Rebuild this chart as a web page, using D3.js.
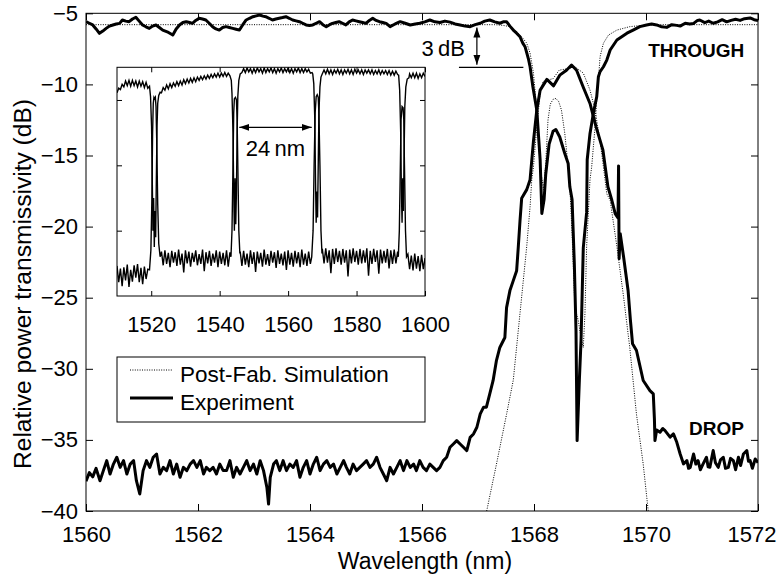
<!DOCTYPE html>
<html><head><meta charset="utf-8">
<script src="https://cdn.jsdelivr.net/npm/d3@7"></script>
<style>
body{margin:0;background:#fff}
svg{display:block}
text{font-family:"Liberation Sans",Arial,Helvetica,sans-serif;fill:#000}
</style>
</head><body>
<svg id="chart" width="777" height="577"></svg>
<script>
// ---------- data ----------
const xTicks = [1560, 1562, 1564, 1566, 1568, 1570, 1572];
const yTicks = [-5, -10, -15, -20, -25, -30, -35, -40];
const insetXTicks = [1520, 1540, 1560, 1580, 1600];
const insetYTicks = [-30, -20, -10];
const legendLabels = ["Post-Fab. Simulation", "Experiment"];
const portLabels = ["THROUGH", "DROP"];

const throughExp = [[1560.00,-5.59],[1560.06,-5.70],[1560.12,-5.82],[1560.18,-6.10],[1560.24,-6.41],[1560.30,-6.25],[1560.36,-6.06],[1560.42,-5.90],[1560.48,-5.82],[1560.54,-5.75],[1560.60,-5.71],[1560.65,-5.47],[1560.71,-5.55],[1560.77,-5.59],[1560.83,-5.40],[1560.89,-5.28],[1560.95,-5.55],[1561.01,-5.82],[1561.07,-5.95],[1561.13,-6.06],[1561.19,-5.90],[1561.25,-5.82],[1561.31,-6.00],[1561.37,-6.18],[1561.45,-6.30],[1561.55,-6.53],[1561.61,-6.10],[1561.67,-5.82],[1561.73,-5.65],[1561.79,-5.59],[1561.85,-5.65],[1561.90,-5.71],[1561.96,-5.50],[1562.02,-5.35],[1562.08,-5.40],[1562.14,-5.47],[1562.20,-5.70],[1562.26,-5.94],[1562.32,-6.10],[1562.38,-6.18],[1562.44,-6.00],[1562.50,-5.94],[1562.56,-6.00],[1562.62,-6.06],[1562.68,-6.12],[1562.74,-6.18],[1562.80,-5.80],[1562.86,-5.47],[1562.92,-5.35],[1562.98,-5.24],[1563.04,-5.18],[1563.10,-5.12],[1563.16,-5.20],[1563.21,-5.24],[1563.27,-5.35],[1563.33,-5.47],[1563.39,-5.40],[1563.45,-5.35],[1563.51,-5.30],[1563.57,-5.24],[1563.63,-5.35],[1563.69,-5.47],[1563.75,-5.53],[1563.81,-5.59],[1563.87,-5.70],[1563.93,-5.82],[1563.99,-5.85],[1564.05,-5.82],[1564.11,-5.70],[1564.17,-5.59],[1564.23,-5.80],[1564.29,-5.94],[1564.35,-5.80],[1564.40,-5.71],[1564.46,-5.65],[1564.52,-5.59],[1564.58,-5.70],[1564.64,-5.82],[1564.70,-5.60],[1564.76,-5.47],[1564.82,-5.53],[1564.88,-5.59],[1564.94,-5.65],[1565.00,-5.71],[1565.06,-5.50],[1565.12,-5.35],[1565.18,-5.50],[1565.24,-5.59],[1565.30,-5.65],[1565.36,-5.71],[1565.43,-5.94],[1565.52,-5.75],[1565.61,-5.59],[1565.70,-5.70],[1565.79,-5.82],[1565.88,-5.75],[1565.96,-5.70],[1566.05,-5.60],[1566.14,-5.47],[1566.23,-5.60],[1566.32,-5.65],[1566.41,-5.55],[1566.50,-5.62],[1566.59,-5.75],[1566.68,-5.82],[1566.77,-5.90],[1566.86,-5.94],[1566.95,-5.80],[1567.04,-5.70],[1567.12,-5.55],[1567.21,-5.47],[1567.30,-5.60],[1567.39,-5.70],[1567.45,-5.60],[1567.51,-5.59],[1567.57,-5.90],[1567.63,-6.18],[1567.69,-6.40],[1567.75,-6.65],[1567.80,-7.10],[1567.84,-7.35],[1567.90,-8.20],[1567.93,-8.76],[1567.98,-10.17],[1568.05,-11.81],[1568.11,-15.33],[1568.14,-19.08],[1568.18,-18.10],[1568.21,-16.30],[1568.27,-14.20],[1568.34,-13.30],[1568.39,-13.17],[1568.46,-13.70],[1568.55,-14.86],[1568.61,-15.56],[1568.64,-17.20],[1568.68,-18.10],[1568.72,-22.60],[1568.75,-27.30],[1568.77,-35.05],[1568.81,-30.80],[1568.84,-28.00],[1568.88,-21.50],[1568.94,-19.00],[1568.95,-15.30],[1569.00,-13.45],[1569.06,-12.04],[1569.12,-10.87],[1569.15,-9.46],[1569.18,-9.10],[1569.24,-8.76],[1569.30,-8.29],[1569.36,-7.58],[1569.48,-6.88],[1569.66,-6.40],[1569.77,-6.18],[1569.89,-5.94],[1570.01,-5.82],[1570.10,-5.75],[1570.19,-5.82],[1570.28,-5.95],[1570.37,-5.99],[1570.46,-5.80],[1570.55,-5.85],[1570.61,-5.90],[1570.70,-5.70],[1570.78,-5.75],[1570.85,-5.71],[1570.92,-5.50],[1570.96,-5.47],[1571.05,-5.65],[1571.12,-5.55],[1571.20,-5.70],[1571.28,-5.60],[1571.36,-5.45],[1571.44,-5.60],[1571.52,-5.50],[1571.60,-5.42],[1571.68,-5.50],[1571.76,-5.38],[1571.86,-5.33],[1571.93,-5.45],[1572.00,-5.50]];

const dropExp = [[1560.00,-37.9],[1560.06,-37.3],[1560.12,-37.6],[1560.18,-37.0],[1560.25,-37.87],[1560.31,-37.16],[1560.37,-36.46],[1560.43,-37.40],[1560.49,-36.70],[1560.55,-36.22],[1560.61,-36.93],[1560.67,-36.46],[1560.73,-37.40],[1560.79,-36.70],[1560.85,-36.46],[1560.90,-37.87],[1560.96,-38.80],[1561.02,-37.16],[1561.08,-36.46],[1561.14,-36.93],[1561.20,-36.22],[1561.26,-35.99],[1561.32,-37.40],[1561.38,-36.93],[1561.44,-37.16],[1561.50,-36.46],[1561.56,-37.40],[1561.62,-36.70],[1561.68,-37.63],[1561.74,-36.93],[1561.80,-37.16],[1561.86,-36.70],[1561.92,-36.46],[1561.98,-36.93],[1562.04,-36.46],[1562.10,-37.40],[1562.15,-36.93],[1562.21,-37.16],[1562.27,-36.93],[1562.33,-37.40],[1562.39,-36.70],[1562.45,-37.16],[1562.51,-37.16],[1562.57,-36.46],[1562.63,-37.63],[1562.69,-36.93],[1562.75,-37.40],[1562.81,-36.93],[1562.87,-36.46],[1562.93,-37.16],[1562.99,-36.70],[1563.05,-37.40],[1563.11,-36.46],[1563.17,-37.16],[1563.23,-38.34],[1563.26,-39.51],[1563.29,-37.63],[1563.35,-36.70],[1563.40,-36.46],[1563.46,-37.16],[1563.52,-36.46],[1563.58,-37.16],[1563.64,-36.70],[1563.70,-36.93],[1563.76,-36.46],[1563.82,-37.63],[1563.88,-36.93],[1563.94,-36.46],[1564.00,-37.40],[1564.06,-36.70],[1564.12,-36.22],[1564.18,-37.16],[1564.24,-36.70],[1564.30,-36.46],[1564.36,-36.93],[1564.42,-36.70],[1564.48,-37.40],[1564.54,-36.93],[1564.60,-36.46],[1564.65,-36.93],[1564.71,-37.40],[1564.77,-36.70],[1564.83,-37.16],[1564.89,-36.93],[1564.95,-36.70],[1565.01,-36.46],[1565.07,-36.93],[1565.13,-36.70],[1565.19,-36.22],[1565.25,-36.93],[1565.31,-37.40],[1565.37,-37.87],[1565.43,-36.93],[1565.49,-37.40],[1565.55,-36.93],[1565.61,-36.46],[1565.67,-37.16],[1565.73,-36.46],[1565.79,-36.93],[1565.85,-36.70],[1565.90,-37.16],[1565.96,-36.46],[1566.02,-36.93],[1566.08,-37.16],[1566.14,-36.70],[1566.20,-36.93],[1566.26,-37.16],[1566.32,-36.93],[1566.38,-36.46],[1566.44,-36.22],[1566.50,-35.52],[1566.56,-35.29],[1566.62,-35.05],[1566.68,-35.29],[1566.74,-35.52],[1566.80,-35.75],[1566.86,-34.82],[1566.92,-34.58],[1566.98,-34.11],[1567.04,-33.17],[1567.10,-32.70],[1567.15,-32.70],[1567.21,-31.76],[1567.27,-30.82],[1567.33,-29.40],[1567.39,-28.50],[1567.48,-27.80],[1567.51,-25.70],[1567.57,-24.50],[1567.63,-23.80],[1567.69,-23.10],[1567.72,-21.40],[1567.75,-19.60],[1567.78,-18.00],[1567.87,-17.40],[1567.93,-16.70],[1567.99,-14.00],[1568.05,-11.80],[1568.11,-10.40],[1568.23,-9.65],[1568.35,-10.10],[1568.46,-9.35],[1568.58,-9.00],[1568.67,-8.64],[1568.76,-9.00],[1568.88,-10.20],[1569.00,-11.34],[1569.11,-13.00],[1569.23,-14.60],[1569.32,-17.20],[1569.39,-18.15],[1569.45,-19.09],[1569.50,-19.40],[1569.51,-15.73],[1569.52,-22.26],[1569.54,-20.50],[1569.60,-22.14],[1569.68,-24.49],[1569.72,-26.50],[1569.76,-28.24],[1569.83,-28.71],[1569.95,-30.82],[1570.07,-31.53],[1570.13,-31.76],[1570.15,-33.50],[1570.16,-35.05],[1570.19,-34.30],[1570.25,-34.46],[1570.30,-34.20],[1570.34,-34.35],[1570.43,-34.81],[1570.49,-34.58],[1570.55,-35.17],[1570.61,-35.99],[1570.67,-36.69],[1570.73,-36.46],[1570.76,-37.00],[1570.79,-36.93],[1570.85,-35.99],[1570.89,-36.70],[1570.93,-36.46],[1570.97,-37.10],[1571.02,-36.69],[1571.08,-36.22],[1571.11,-36.90],[1571.14,-36.93],[1571.20,-35.75],[1571.24,-36.60],[1571.29,-36.93],[1571.33,-36.40],[1571.38,-36.22],[1571.42,-37.00],[1571.47,-36.93],[1571.51,-36.30],[1571.56,-36.46],[1571.60,-37.10],[1571.65,-36.22],[1571.69,-36.80],[1571.74,-35.99],[1571.80,-35.75],[1571.83,-36.50],[1571.86,-36.46],[1571.90,-37.00],[1571.95,-36.34],[1572.00,-36.60]];

const throughSim = [[1560,-5.8],[1567.3,-5.8],[1567.45,-5.85],[1567.57,-5.94],[1567.69,-6.3],[1567.78,-6.65],[1567.87,-7.1],[1567.93,-7.8],[1567.99,-9.2],[1568.05,-11.8],[1568.09,-14.6],[1568.13,-16.3],[1568.17,-17.4],[1568.21,-15.5],[1568.25,-12.5],[1568.29,-11.4],[1568.34,-11.05],[1568.39,-10.99],[1568.44,-11.2],[1568.49,-11.8],[1568.55,-13.45],[1568.61,-15.8],[1568.64,-17.2],[1568.68,-20.5],[1568.73,-25.66],[1568.79,-26.6],[1568.84,-27.8],[1568.88,-28.5],[1568.91,-26.1],[1568.94,-21.4],[1569.0,-16.7],[1569.03,-15.8],[1569.09,-13.0],[1569.12,-11.1],[1569.15,-9.7],[1569.18,-8.05],[1569.24,-7.1],[1569.33,-6.53],[1569.48,-6.18],[1569.71,-5.94],[1570.01,-5.82],[1570.3,-5.8],[1572,-5.8]];

const dropSim = [[1567.155,-40],[1567.33,-36.7],[1567.51,-33.2],[1567.63,-30.8],[1567.75,-26.1],[1567.87,-21.4],[1567.93,-18.6],[1567.96,-16.7],[1567.99,-15.8],[1568.05,-13.0],[1568.11,-10.6],[1568.16,-9.8],[1568.23,-9.7],[1568.34,-9.6],[1568.45,-9.0],[1568.64,-8.87],[1568.73,-8.76],[1568.88,-9.2],[1569.0,-10.4],[1569.09,-11.8],[1569.18,-14.0],[1569.24,-15.8],[1569.30,-17.7],[1569.36,-18.15],[1569.48,-21.4],[1569.6,-24.96],[1569.71,-28.5],[1569.83,-33.2],[1569.95,-36.7],[1570.04,-40]];

const insetThrough = [[1510,-8.9],[1510.5,-8.2],[1511,-8.4],[1511.5,-7.6],[1512,-8.0],[1512.5,-7.1],[1513,-7.8],[1513.5,-7.0],[1514,-7.9],[1514.5,-7.0],[1515,-7.8],[1515.5,-7.1],[1516,-8.0],[1516.5,-7.1],[1517,-7.9],[1517.5,-7.2],[1518,-8.1],[1518.5,-7.3],[1519,-8.2],[1519.5,-7.9],[1519.8,-9.5],[1520.1,-14],[1520.3,-22],[1520.5,-30],[1520.7,-25],[1520.9,-32.5],[1521.1,-27],[1521.3,-31],[1521.5,-22],[1521.7,-14],[1521.9,-10.5],[1522.2,-9.3],[1522.6,-8.8],[1523,-8.9],[1523.5,-8.1],[1524,-8.5],[1524.5,-7.7],[1525,-8.3],[1525.5,-7.5],[1526,-8.1],[1526.5,-7.4],[1527,-7.9],[1527.5,-7.2],[1528,-7.8],[1528.5,-7.1],[1529,-7.7],[1529.5,-6.9],[1530,-7.5],[1530.5,-6.8],[1531,-7.4],[1531.5,-6.7],[1532,-7.3],[1532.5,-6.6],[1533,-7.2],[1533.5,-6.5],[1534,-7.0],[1534.5,-6.4],[1535,-6.9],[1535.5,-6.3],[1536,-6.8],[1536.5,-6.2],[1537,-6.7],[1537.5,-6.1],[1538,-6.6],[1538.5,-6.0],[1539,-6.5],[1539.5,-5.9],[1540,-6.5],[1540.5,-5.9],[1541,-6.4],[1541.5,-5.8],[1542,-6.4],[1542.5,-5.9],[1543,-6.3],[1543.4,-7.0],[1543.6,-9],[1543.9,-15],[1544.1,-24],[1544.3,-30],[1544.5,-22],[1544.7,-29],[1544.9,-24],[1545.1,-15],[1545.3,-9.5],[1545.6,-7],[1546,-6.0],[1546.5,-5.8],[1547,-5.2],[1547.5,-5.8],[1548,-5.1],[1548.5,-5.7],[1549,-5.2],[1549.5,-5.9],[1550,-5.2],[1550.5,-5.8],[1551,-5.1],[1551.5,-5.7],[1552,-5.2],[1552.5,-5.9],[1553,-5.1],[1553.5,-5.8],[1554,-5.2],[1554.5,-5.7],[1555,-5.1],[1555.5,-5.8],[1556,-5.2],[1556.5,-5.9],[1557,-5.2],[1557.5,-5.7],[1558,-5.1],[1558.5,-5.8],[1559,-5.2],[1559.5,-5.7],[1560,-5.1],[1560.5,-5.8],[1561,-5.2],[1561.5,-5.9],[1562,-5.2],[1562.5,-5.7],[1563,-5.1],[1563.5,-5.8],[1564,-5.2],[1564.5,-5.8],[1565,-5.2],[1565.5,-5.7],[1566,-5.3],[1566.5,-5.9],[1567,-5.8],[1567.2,-6.0],[1567.5,-7.5],[1567.8,-13],[1568.0,-22],[1568.2,-28.8],[1568.4,-24],[1568.6,-28],[1568.8,-20],[1569.0,-12],[1569.3,-8],[1569.6,-6.5],[1570,-6.0],[1570.5,-5.4],[1571,-6.0],[1571.5,-5.3],[1572,-6.0],[1572.5,-5.4],[1573,-6.1],[1573.5,-5.4],[1574,-5.9],[1574.5,-5.3],[1575,-6.0],[1575.5,-5.4],[1576,-6.1],[1576.5,-5.4],[1577,-5.9],[1577.5,-5.3],[1578,-6.0],[1578.5,-5.4],[1579,-6.1],[1579.5,-5.3],[1580,-5.9],[1580.5,-5.4],[1581,-6.0],[1581.5,-5.4],[1582,-6.1],[1582.5,-5.4],[1583,-5.9],[1583.5,-5.4],[1584,-6.0],[1584.5,-5.4],[1585,-6.1],[1585.5,-5.5],[1586,-6.0],[1586.5,-5.4],[1587,-6.1],[1587.5,-5.5],[1588,-6.0],[1588.5,-5.5],[1589,-6.1],[1589.5,-5.5],[1590,-6.2],[1590.5,-5.6],[1591,-6.2],[1591.5,-5.6],[1592,-6.1],[1592.3,-6.2],[1592.6,-8.5],[1592.9,-15],[1593.1,-24],[1593.3,-28.8],[1593.5,-22],[1593.7,-27],[1593.9,-18],[1594.1,-11],[1594.4,-8],[1594.8,-6.8],[1595.3,-6.6],[1595.5,-6.0],[1596,-6.6],[1596.5,-5.9],[1597,-6.6],[1597.5,-5.9],[1598,-6.7],[1598.5,-6.0],[1599,-6.6],[1599.5,-5.9],[1600,-6.4]];

const insetDrop = [[1510,-35.4],[1510.5,-37.9],[1511,-35.8],[1511.5,-38.5],[1512,-35.6],[1512.5,-37.6],[1513,-35.2],[1513.5,-38.6],[1514,-36.0],[1514.5,-37.8],[1515,-35.3],[1515.5,-37.2],[1516,-35.1],[1516.5,-37.9],[1517,-35.7],[1517.5,-38.2],[1518,-35.5],[1518.5,-37.4],[1519,-35.9],[1519.5,-36],[1519.9,-33],[1520.2,-25],[1520.4,-15],[1520.6,-10.5],[1520.8,-9.6],[1521.0,-9.8],[1521.2,-9.6],[1521.4,-11],[1521.6,-16],[1521.9,-26],[1522.2,-32],[1522.6,-34],[1523,-33.2],[1523.5,-35.3],[1524,-33.0],[1524.5,-35.1],[1525,-33.4],[1525.5,-35.6],[1526,-33.1],[1526.5,-34.9],[1527,-33.3],[1527.5,-35.4],[1528,-32.9],[1528.5,-35.2],[1529,-33.5],[1529.5,-36.4],[1530,-33.0],[1530.5,-35.0],[1531,-33.2],[1531.5,-35.5],[1532,-33.4],[1532.5,-34.8],[1533,-33.0],[1533.5,-35.3],[1534,-33.6],[1534.5,-35.1],[1535,-32.9],[1535.5,-36.2],[1536,-33.3],[1536.5,-35.0],[1537,-33.1],[1537.5,-35.4],[1538,-33.5],[1538.5,-34.9],[1539,-33.0],[1539.5,-35.6],[1540,-33.2],[1540.5,-35.1],[1541,-33.4],[1541.5,-35.3],[1542,-33.0],[1542.5,-35.5],[1543,-33.3],[1543.3,-34],[1543.6,-30],[1543.9,-20],[1544.1,-12],[1544.3,-9.8],[1544.6,-9.6],[1544.9,-10],[1545.1,-13],[1545.3,-20],[1545.6,-30],[1545.9,-33.5],[1546,-33.2],[1546.5,-35.4],[1547,-33.1],[1547.5,-35.2],[1548,-33.5],[1548.5,-35.6],[1549,-33.0],[1549.5,-35.1],[1550,-33.3],[1550.5,-36.3],[1551,-33.2],[1551.5,-35.0],[1552,-33.4],[1552.5,-35.5],[1553,-32.9],[1553.5,-35.2],[1554,-33.6],[1554.5,-35.4],[1555,-33.1],[1555.5,-34.9],[1556,-33.3],[1556.5,-35.7],[1557,-33.0],[1557.5,-35.1],[1558,-33.5],[1558.5,-35.3],[1559,-33.2],[1559.5,-36.0],[1560,-33.0],[1560.5,-35.2],[1561,-33.4],[1561.5,-35.5],[1562,-33.1],[1562.5,-35.0],[1563,-33.3],[1563.5,-35.6],[1564,-32.9],[1564.5,-35.2],[1565,-33.5],[1565.5,-35.4],[1566,-33.2],[1566.5,-35.1],[1566.9,-34],[1567.3,-30],[1567.6,-20],[1567.9,-12],[1568.2,-9.5],[1568.5,-9.2],[1568.8,-9.6],[1569.0,-12],[1569.3,-20],[1569.6,-30],[1569.9,-33.5],[1570,-32.8],[1570.5,-35.0],[1571,-32.7],[1571.5,-34.9],[1572,-33.0],[1572.5,-36.5],[1573,-32.8],[1573.5,-35.1],[1574,-32.7],[1574.5,-34.8],[1575,-33.1],[1575.5,-35.2],[1576,-32.8],[1576.5,-34.9],[1577,-33.0],[1577.5,-37.0],[1578,-32.9],[1578.5,-35.0],[1579,-32.7],[1579.5,-34.8],[1580,-33.1],[1580.5,-35.2],[1581,-32.8],[1581.5,-35.0],[1582,-33.0],[1582.5,-34.9],[1583,-32.7],[1583.5,-36.9],[1584,-33.1],[1584.5,-35.1],[1585,-32.8],[1585.5,-34.8],[1586,-33.0],[1586.5,-36.6],[1587,-32.9],[1587.5,-35.0],[1588,-33.1],[1588.5,-34.9],[1589,-32.8],[1589.5,-35.8],[1590,-33.0],[1590.5,-35.1],[1591,-32.9],[1591.5,-35.0],[1592,-33.2],[1592.2,-34],[1592.5,-30],[1592.8,-20],[1593.0,-13],[1593.3,-11],[1593.6,-11.2],[1593.8,-13],[1594.0,-20],[1594.3,-30],[1594.6,-34],[1595,-33.6],[1595.5,-35.9],[1596,-33.8],[1596.5,-36.1],[1597,-33.5],[1597.5,-35.8],[1598,-33.9],[1598.5,-36.2],[1599,-33.7],[1599.5,-35.9],[1600,-34.2]];

// ---------- layout ----------
const svg = d3.select("#chart");
const FS = 22;
const M = {left: 86, right: 758, top: 13.3, bottom: 511};
const x = d3.scaleLinear().domain([1560, 1572]).range([M.left, M.right]);
const y = d3.scaleLinear().domain([-40, -5]).range([M.bottom, M.top]);

const defs = svg.append("defs");
defs.append("clipPath").attr("id", "clipMain")
  .append("rect").attr("x", M.left).attr("y", M.top)
  .attr("width", M.right - M.left).attr("height", M.bottom - M.top);

const line = (sx, sy) => d3.line().x(d => sx(d[0])).y(d => sy(d[1]));

// main curves
const plot = svg.append("g").attr("clip-path", "url(#clipMain)");
[throughSim, dropSim].forEach(s => plot.append("path").datum(s).attr("d", line(x, y))
  .attr("fill", "none").attr("stroke", "#000").attr("stroke-width", 1).attr("stroke-dasharray", "1,1.4"));
[throughExp, dropExp].forEach(s => plot.append("path").datum(s).attr("d", line(x, y))
  .attr("fill", "none").attr("stroke", "#000").attr("stroke-width", 3).attr("stroke-linejoin", "round"));

// axes
function styleAxis(g) {
  g.select(".domain").remove();
  g.selectAll(".tick line").attr("stroke", "#000").attr("stroke-width", 1);
  g.selectAll("text").attr("font-size", FS).attr("font-family", "Liberation Sans, Arial, sans-serif").attr("fill", "#000");
  g.attr("font-size", null).attr("font-family", null);
}
const gx = svg.append("g").attr("transform", `translate(0,${M.bottom})`)
  .call(d3.axisBottom(x).tickValues(xTicks).tickSizeInner(-7).tickSizeOuter(0).tickPadding(15).tickFormat(d3.format("d")))
  .call(styleAxis);
// keep the last tick label inside the picture, as in the reference
gx.selectAll(".tick text").filter(d => d === xTicks[xTicks.length - 1])
  .attr("text-anchor", "end").attr("x", 777 - M.right - 1);
svg.append("g").attr("transform", `translate(0,${M.top})`)
  .call(d3.axisTop(x).tickValues(xTicks).tickSizeInner(-7).tickSizeOuter(0).tickFormat(""))
  .call(styleAxis);
svg.append("g").attr("transform", `translate(${M.left},0)`)
  .call(d3.axisLeft(y).tickValues(yTicks).tickSizeInner(-7).tickSizeOuter(0).tickPadding(8).tickFormat(d3.format("d")))
  .call(styleAxis);
svg.append("g").attr("transform", `translate(${M.right},0)`)
  .call(d3.axisRight(y).tickValues(yTicks).tickSizeInner(-7).tickSizeOuter(0).tickFormat(""))
  .call(styleAxis);
svg.append("rect").attr("x", M.left).attr("y", M.top)
  .attr("width", M.right - M.left).attr("height", M.bottom - M.top)
  .attr("fill", "none").attr("stroke", "#000").attr("stroke-width", 1);

// axis titles
svg.append("text").attr("x", (M.left + M.right) / 2 + 3).attr("y", 569)
  .attr("text-anchor", "middle").attr("font-size", 23).text("Wavelength (nm)");
svg.append("text").attr("transform", "translate(31,284) rotate(-90)")
  .attr("text-anchor", "middle").attr("font-size", 23)
  .attr("textLength", 370).attr("lengthAdjust", "spacingAndGlyphs")
  .text("Relative power transmissivity (dB)");

// port labels
svg.append("text").attr("x", x(1570.04)).attr("y", y(-8.1))
  .attr("font-size", 19).attr("font-weight", "bold").text(portLabels[0]);
svg.append("text").attr("x", x(1570.77)).attr("y", y(-34.65))
  .attr("font-size", 19).attr("font-weight", "bold").text(portLabels[1]);

// arrow markers
defs.append("marker").attr("id", "ah").attr("markerUnits", "userSpaceOnUse")
  .attr("markerWidth", 10).attr("markerHeight", 10).attr("viewBox", "0 -5 10 10")
  .attr("refX", 10).attr("refY", 0).attr("orient", "auto-start-reverse")
  .append("path").attr("d", "M0,-3.5L10,0L0,3.5Z").attr("fill", "#000");

// 3 dB annotation
svg.append("line").attr("x1", x(1566.98)).attr("x2", x(1566.98))
  .attr("y1", y(-6.0)).attr("y2", y(-8.62))
  .attr("stroke", "#000").attr("stroke-width", 1.2)
  .attr("marker-start", "url(#ah)").attr("marker-end", "url(#ah)");
svg.append("line").attr("x1", x(1566.66)).attr("x2", x(1567.81))
  .attr("y1", y(-8.8)).attr("y2", y(-8.8)).attr("stroke", "#000").attr("stroke-width", 1.2);
svg.append("text").attr("x", x(1566.38)).attr("y", y(-8.0)).attr("text-anchor", "middle")
  .attr("font-size", FS).text("3\u2009dB");

// ---------- inset ----------
const IB = {left: 117, right: 425, top: 67.3, bottom: 296};
const xi = d3.scaleLinear().domain([1510, 1600]).range([IB.left, IB.right]);
const yi = d3.scaleLinear().domain([-40, -5]).range([IB.bottom, IB.top]);
defs.append("clipPath").attr("id", "clipInset").append("rect")
  .attr("x", IB.left).attr("y", IB.top).attr("width", IB.right - IB.left).attr("height", IB.bottom - IB.top);
svg.append("rect").attr("x", IB.left).attr("y", IB.top)
  .attr("width", IB.right - IB.left).attr("height", IB.bottom - IB.top).attr("fill", "#fff");
const ip = svg.append("g").attr("clip-path", "url(#clipInset)");
[insetThrough, insetDrop].forEach(s => ip.append("path").datum(s).attr("d", line(xi, yi))
  .attr("fill", "none").attr("stroke", "#000").attr("stroke-width", 1.4));

svg.append("g").attr("transform", `translate(0,${IB.bottom})`)
  .call(d3.axisBottom(xi).tickValues(insetXTicks).tickSizeInner(-5).tickSizeOuter(0).tickPadding(20).tickFormat(d3.format("d")))
  .call(styleAxis);
svg.append("g").attr("transform", `translate(0,${IB.top})`)
  .call(d3.axisTop(xi).tickValues(insetXTicks).tickSizeInner(-5).tickSizeOuter(0).tickFormat(""))
  .call(styleAxis);
svg.append("g").attr("transform", `translate(${IB.left},0)`)
  .call(d3.axisLeft(yi).tickValues(insetYTicks).tickSizeInner(-5).tickSizeOuter(0).tickFormat(""))
  .call(styleAxis);
svg.append("g").attr("transform", `translate(${IB.right},0)`)
  .call(d3.axisRight(yi).tickValues(insetYTicks).tickSizeInner(-5).tickSizeOuter(0).tickFormat(""))
  .call(styleAxis);
svg.append("rect").attr("x", IB.left).attr("y", IB.top)
  .attr("width", IB.right - IB.left).attr("height", IB.bottom - IB.top)
  .attr("fill", "none").attr("stroke", "#000").attr("stroke-width", 1);

// 24 nm annotation
svg.append("line").attr("x1", xi(1545.74)).attr("x2", xi(1566.9))
  .attr("y1", yi(-14.18)).attr("y2", yi(-14.18))
  .attr("stroke", "#000").attr("stroke-width", 1.2)
  .attr("marker-start", "url(#ah)").attr("marker-end", "url(#ah)");
svg.append("text").attr("x", xi(1556.3)).attr("y", yi(-18.5)).attr("text-anchor", "middle")
  .attr("font-size", FS).text("24\u2009nm");

// ---------- legend ----------
const LG = {x: 117, y: 357, w: 308, h: 65};
const lg = svg.append("g");
lg.append("rect").attr("x", LG.x).attr("y", LG.y).attr("width", LG.w).attr("height", LG.h)
  .attr("fill", "#fff").attr("stroke", "#000").attr("stroke-width", 1);
const legendRows = [
  {label: legendLabels[0], dash: "1,1.4", w: 1, ly: 13, ty: 25},
  {label: legendLabels[1], dash: null, w: 3, ly: 41, ty: 53}
];
legendRows.forEach(r => {
  lg.append("line").attr("x1", LG.x + 13).attr("x2", LG.x + 56)
    .attr("y1", LG.y + r.ly).attr("y2", LG.y + r.ly)
    .attr("stroke", "#000").attr("stroke-width", r.w).attr("stroke-dasharray", r.dash);
  lg.append("text").attr("x", LG.x + 63).attr("y", LG.y + r.ty).attr("font-size", 22.5).text(r.label);
});
</script>
</body></html>
